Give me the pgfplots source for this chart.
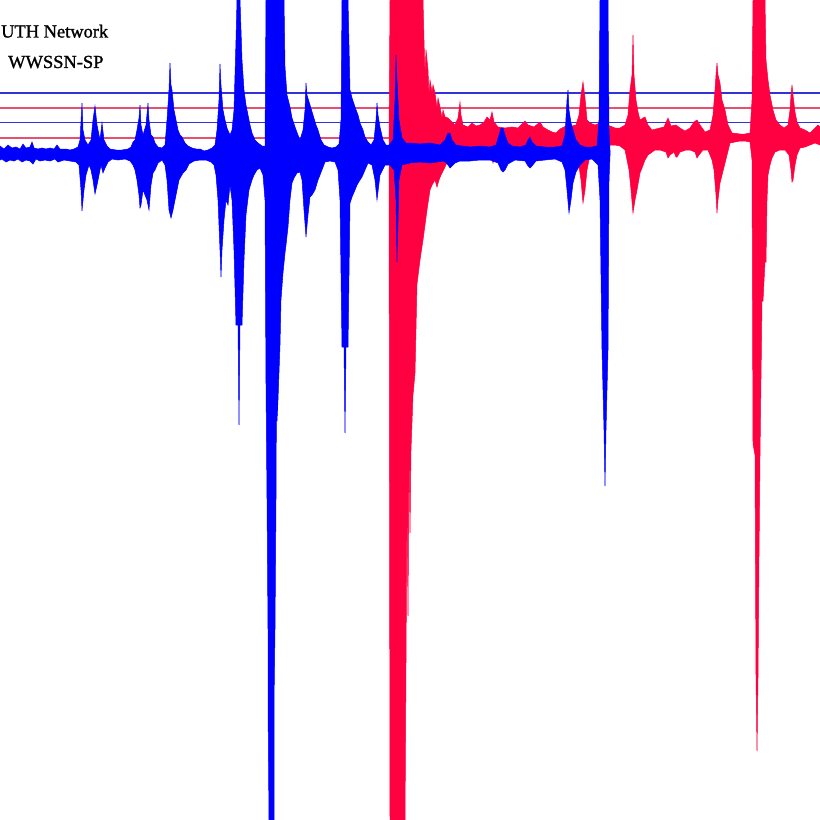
\documentclass[border=0pt]{standalone}
\usepackage{pgfplots}
\pgfplotsset{compat=1.18}
\usepackage{fontspec}
\setmainfont{Liberation Serif}
\newfontfamily\labfont[FakeBold=1.2]{Liberation Serif}
\definecolor{tblue}{RGB}{0,0,255}
\definecolor{tred}{RGB}{255,0,64}
\definecolor{lblue}{RGB}{50,50,220}
\definecolor{lred}{RGB}{228,80,110}
\begin{document}
\begin{tikzpicture}
\begin{axis}[
  width=820bp, height=820bp, scale only axis,
  xmin=0, xmax=820, ymin=0, ymax=820, y dir=reverse,
  axis line style={draw=none}, ticks=none,
  axis background/.style={fill=white},
  clip=true,
]
% reference lines
\addplot[lblue, line width=1.1bp] coordinates {(0,93) (820,93)};
\addplot[lred, line width=1.1bp] coordinates {(0,108) (820,108)};
\addplot[lblue, line width=1.1bp] coordinates {(0,122.5) (820,122.5)};
\addplot[lred, line width=1.1bp] coordinates {(0,138) (820,138)};
% red trace (top envelope, then bottom envelope back)
\addplot[fill=tred, draw=tred, line width=0.5bp] coordinates {
(389,140) (390,0) (423,0) (424,40) (425,75) (426,50) (428,70) (429,95) (430,80) (432,92) (433,85) (435,93) (437,108) (438,98)
(440,107) (442,118) (443,110) (445,117) (448,118) (450,120) (455,125) (458,118) (460,102) (461,115) (463,125)
(468,127) (472,123) (476,126) (480,125) (484,122) (487,117) (490,120) (492,112) (494,122) (498,127)
(505,128) (512,127) (518,128) (522,124) (525,121) (528,125) (534,127) (540,122) (543,127) (548,130)
(552,132) (556,133) (560,129) (564,127) (568,125) (572,126) (576,125) (579,115) (581,95) (583,82)
(585,98) (587,120) (590,123) (595,125) (600,123) (610,126) (615,128) (620,128) (625,125) (628,115)
(630,90) (632,75) (633,35) (634,75) (636,100) (638,112) (640,120) (643,118) (645,117) (648,125)
(652,130) (656,129) (660,128) (664,127) (668,118) (671,126) (676,125) (680,128) (685,131) (690,128)
(694,122) (697,120) (700,125) (705,132) (710,130) (713,115) (715,90) (716,75) (717,63) (718,75)
(720,83) (722,100) (725,110) (728,125) (732,133) (740,134) (745,134) (750,133) (752,100) (753,0)
(765,0) (766,60) (768,80) (770,95) (773,110) (776,120) (780,125) (784,128) (788,125) (790,110)
(791,95) (792,85) (793,95) (795,112) (797,122) (800,128) (805,130) (810,133) (815,128) (818,125)
(820,127)
(820,145) (815,143) (810,145) (805,147) (800,148) (797,155) (795,165) (793,180) (792,182) (791,170)
(789,155) (785,150) (780,150) (775,152) (772,158) (770,165) (768,175) (767,200) (766,262) (765,262)
(763,301) (762,301) (760,455) (759,555) (758,677) (757,751) (756,677) (755,455) (753,444) (752,160)
(750,142) (745,141) (740,141) (735,142) (730,143) (727,155) (725,163) (722,175) (720,183) (718,200)
(717,213) (716,195) (714,170) (712,160) (708,150) (703,150) (699,155) (697,158) (695,152) (690,150)
(686,150) (680,152) (677,157) (676,157) (674,152) (670,155) (668,158) (666,152) (660,150) (655,150)
(648,155) (645,160) (642,168) (640,173) (637,190) (635,200) (633,213) (631,190) (629,170) (627,160)
(625,150) (620,146) (615,145) (608,145) (595,148) (590,155) (587,170) (585,190) (583,203) (581,180)
(578,160) (575,150) (570,148) (560,148) (545,150) (530,150) (520,149) (505,150) (495,155) (493,163)
(491,155) (480,150) (465,150) (455,152) (448,160) (445,167) (441,175) (439,180) (437,187) (435,180)
(432,185) (430,190) (427,210) (425,225) (423,240) (420,260) (417,284) (415,373) (413,395) (411,450)
(410,533) (409,450) (408,616) (407,500) (406,662) (405,820) (390,820) (389,150)
} -- cycle;
% blue trace (top envelope, then bottom envelope back)
\addplot[fill=tblue, draw=tblue, line width=0.5bp] coordinates {
(0,146) (4,149) (8,145) (12,148) (16,147) (20,149) (23,144) (26,148) (30,147) (32,142)
(34,148) (38,149) (42,148) (46,149) (50,148) (54,149) (57,145) (60,149) (66,149) (70,150)
(74,149) (78,147) (80,140) (82,103) (83,130) (85,140) (88,145) (91,140) (93,120) (95,106)
(97,125) (100,140) (102,123) (104,140) (107,146) (110,149) (116,150) (122,150) (128,149) (131,147)
(133,142) (135,140) (137,130) (139,118) (140,105) (141,125) (143,135) (146,125) (148,103) (149,120)
(151,135) (153,137) (155,143) (158,147) (162,148) (165,145) (167,120) (169,90) (170,63) (171,85)
(172,90) (174,110) (176,120) (178,130) (180,135) (182,137) (185,143) (188,146) (192,148) (196,149)
(200,149) (204,151) (208,150) (212,148) (215,145) (217,130) (219,100) (220,64) (221,85) (223,110)
(225,120) (227,128) (230,135) (232,130) (234,110) (236,40) (237,0) (240,0) (242,60) (244,90)
(246,105) (248,115) (250,125) (252,133) (255,140) (258,143) (262,146) (265,146) (266,0) (284,0)
(285,67) (287,95) (290,107) (292,118) (295,127) (298,135) (300,140) (303,130) (305,110) (306,83)
(307,95) (310,105) (313,115) (316,125) (318,130) (321,140) (324,145) (328,147) (332,148) (336,147)
(339,144) (341,120) (342,0) (348,0) (350,90) (352,98) (355,107) (358,115) (360,123) (363,130)
(365,137) (368,142) (371,145) (374,140) (376,120) (377,103) (378,115) (380,127) (383,140) (386,145)
(389,145) (393,140) (395,100) (396,55) (397,80) (399,120) (402,138) (406,143) (410,143) (420,144)
(430,143) (440,145) (445,140) (448,133) (450,133) (452,140) (456,145) (462,146) (470,147) (480,146)
(490,147) (496,145) (499,135) (501,128) (503,128) (505,135) (508,143) (512,146) (520,147) (526,145)
(528,140) (530,137) (532,142) (536,146) (545,147) (555,147) (562,146) (565,135) (567,100) (568,90)
(569,110) (571,123) (573,130) (576,140) (580,145) (585,147) (592,147) (597,146) (599,120) (600,0)
(608,0) (609,130) (610,150)
(610,156) (609,180) (608,350) (606,430) (605,486) (604,430) (602,350) (600,200) (598,165) (592,159)
(585,160) (580,165) (576,172) (573,183) (571,200) (569,213) (567,190) (565,170) (562,162) (555,159)
(545,160) (536,161) (532,166) (530,168) (528,166) (525,161) (515,160) (508,164) (505,170) (503,172)
(501,170) (498,163) (490,160) (480,160) (470,161) (460,161) (455,163) (452,166) (450,168) (448,165)
(444,161) (430,163) (420,162) (410,163) (402,165) (399,180) (397,262) (396,200) (394,170) (390,165)
(385,165) (380,175) (377,200) (375,180) (372,165) (368,163) (365,170) (362,177) (360,180) (357,185)
(355,190) (352,197) (350,203) (348,347) (346,347) (345,433) (344,347) (342,347) (340,200) (338,170)
(335,162) (330,161) (325,162) (320,175) (318,180) (315,190) (312,195) (310,197) (308,215) (306,237)
(304,210) (302,180) (300,172) (297,173) (294,178) (292,183) (290,200) (288,227) (286,245) (285,253)
(283,273) (281,300) (280,345) (278,400) (277,421) (276.5,384) (276,499) (275,629) (274,703) (274,820)
(269,820) (268,703) (268,629) (267,499) (266,384) (265,200) (263,175) (260,168) (257,170) (254,175)
(252,180) (249,190) (246,215) (244,260) (242,325) (240,325) (239,425) (238,325) (236,325) (234,250)
(232,200) (230,185) (228,205) (226,200) (224,220) (222,250) (221,277) (220,250) (218,200) (216,175)
(214,165) (211,162) (206,160) (200,160) (194,161) (189,164) (186,170) (183,173) (179,180) (177,190)
(175,200) (173,210) (171,218) (169,210) (167,180) (165,165) (162,160) (158,163) (155,170) (153,173)
(151,185) (149,210) (148,205) (147,200) (145,195) (143,190) (141,205) (140,208) (139,195) (137,180)
(135,170) (133,165) (130,161) (125,159) (118,160) (112,159) (108,162) (105,168) (103,173) (101,165)
(99,175) (97,185) (95,194) (93,180) (91,170) (89,165) (86,175) (84,190) (82,211) (81,190)
(79,165) (76,162) (70,161) (64,160) (58,162) (55,159) (50,161) (45,160) (40,161) (36,159)
(33,164) (30,161) (26,160) (22,162) (18,159) (14,161) (10,160) (6,162) (2,159) (0,160)
} -- cycle;
\node[anchor=base west, inner sep=0pt, font=\labfont\fontsize{18.5}{20}\selectfont] at (axis cs:1,37.5) {UTH Network};
\node[anchor=base west, inner sep=0pt, font=\labfont\fontsize{18.5}{20}\selectfont] at (axis cs:8,68) {WWSSN-SP};
\end{axis}
\end{tikzpicture}
\end{document}
